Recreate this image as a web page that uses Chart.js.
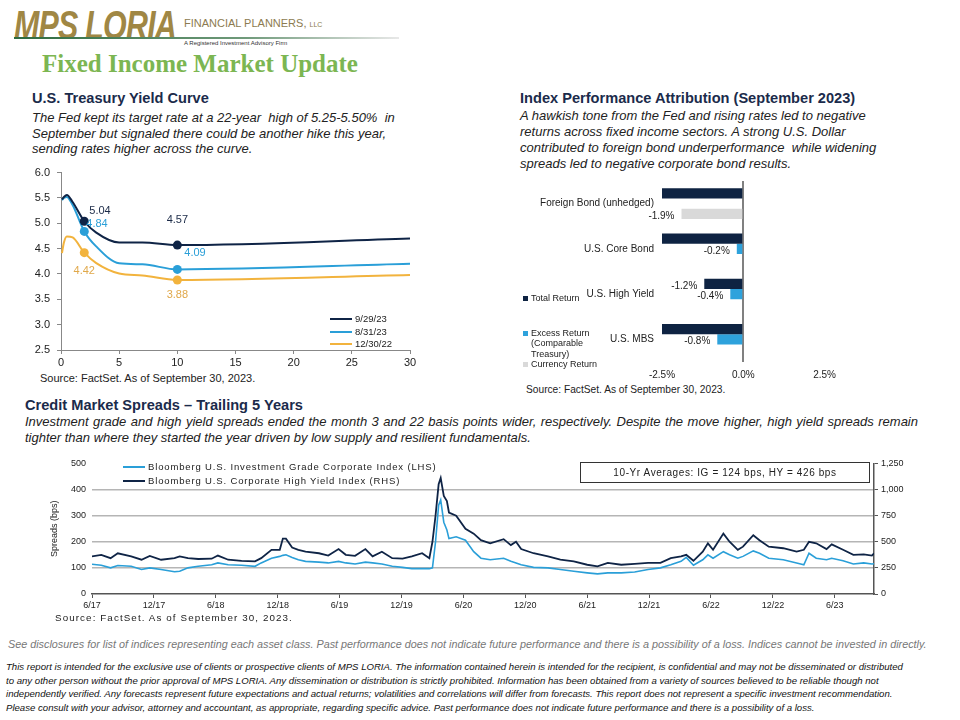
<!DOCTYPE html>
<html>
<head>
<meta charset="utf-8">
<script src="https://cdn.jsdelivr.net/npm/chart.js@4.4.0/dist/chart.umd.min.js"></script>
<style>
  body { margin:0; width:960px; height:720px; background:#fff; position:relative; overflow:hidden; font-family:"Liberation Sans", Arial, sans-serif; color:#222; }
  .abs { position:absolute; }
  .logo { left:14px; top:3px; font:italic bold 40px "Liberation Sans", Arial, sans-serif; color:#a08744; transform:scaleX(0.76); transform-origin:left top; letter-spacing:-1px; }
  .firm { left:184px; top:17px; font:11px "Liberation Sans Narrow", "Liberation Sans", sans-serif; color:#8c7b50; }
  .firm small { font-size:7px; }
  .rule { left:14px; top:37px; width:385px; height:2px; background:linear-gradient(to right,#2d6b3f,#6f9a7a 60%,#e8e8e8); }
  .ria { left:184px; top:40px; font:6px "Liberation Sans", sans-serif; color:#333; }
  .title { left:42px; top:50px; font:bold 25px "Liberation Serif", serif; color:#7cb652; }
  h3 { margin:0; position:absolute; font:bold 14.6px "Liberation Sans", Arial, sans-serif; color:#1b2b4b; }
  .para { font:italic 13px "Liberation Sans", Arial, sans-serif; color:#222; }
  .src { font:11px "Liberation Sans", Arial, sans-serif; color:#222; }
  .leg { font:9.5px "Liberation Sans", Arial, sans-serif; color:#222; }
  .leg i { display:inline-block; vertical-align:middle; margin-right:3px; }
  .note { left:8px; top:638px; font:italic 10.8px "Liberation Sans Narrow", "Liberation Sans", sans-serif; color:#777; }
  .disc { left:6px; top:660px; width:950px; font:italic 9.6px "Liberation Sans Narrow", "Liberation Sans", sans-serif; line-height:13.5px; color:#111; }
</style>
</head>
<body>

<div class="abs logo">MPS LORIA</div>
<div class="abs firm">FINANCIAL PLANNERS, <small>LLC</small></div>
<div class="abs rule"></div>
<div class="abs ria">A Registered Investment Advisory Firm</div>
<div class="abs title">Fixed Income Market Update</div>

<h3 style="left:32px;top:90px;">U.S. Treasury Yield Curve</h3>
<div class="abs para" style="left:32px;top:110px;line-height:15.5px;">The Fed kept its target rate at a 22-year &nbsp;high of 5.25-5.50% &nbsp;in<br>September but signaled there could be another hike this year,<br>sending rates higher across the curve.</div>

<h3 style="left:520px;top:90px;">Index Performance Attribution (September 2023)</h3>
<div class="abs para" style="left:520px;top:108px;line-height:16px;">A hawkish tone from the Fed and rising rates led to negative<br>returns across fixed income sectors. A strong U.S. Dollar<br>contributed to foreign bond underperformance &nbsp;while widening<br>spreads led to negative corporate bond results.</div>

<div class="abs" style="left:20px;top:159px;width:400px;height:211px;"><canvas id="yieldChart"></canvas></div>
<div class="abs leg" style="left:330px;top:313px;line-height:12.5px;">
  <div><i style="width:22px;height:2px;background:#0f2446;"></i>9/29/23</div>
  <div><i style="width:22px;height:2px;background:#2a9fd8;"></i>8/31/23</div>
  <div><i style="width:22px;height:2px;background:#f2b33d;"></i>12/30/22</div>
</div>
<div class="abs src" style="left:40px;top:372px;">Source: FactSet. As of September 30, 2023.</div>

<div class="abs" style="left:515px;top:175px;width:328px;height:209px;"><canvas id="attrChart"></canvas></div>
<div class="abs leg" style="left:523px;top:293px;font-size:9px;line-height:10.5px;">
  <div><i style="width:5px;height:5px;background:#0e2342;"></i>Total Return</div>
  <div style="margin-top:24px;"><i style="width:5px;height:5px;background:#2ea2dc;"></i>Excess Return</div>
  <div style="padding-left:8px;">(Comparable<br>Treasury)</div>
  <div><i style="width:5px;height:5px;background:#d9d9d9;"></i>Currency Return</div>
</div>
<div class="abs src" style="left:526px;top:384px;font-size:10.2px;">Source: FactSet. As of September 30, 2023.</div>

<h3 style="left:25px;top:397px;">Credit Market Spreads – Trailing 5 Years</h3>
<div class="abs para" style="left:25px;top:414px;width:893px;line-height:16px;">
  <div style="text-align:justify;text-align-last:justify;">Investment grade and high yield spreads ended the month 3 and 22 basis points wider, respectively. Despite the move higher, high yield spreads remain</div>
  <div>tighter than where they started the year driven by low supply and resilient fundamentals.</div>
</div>

<div class="abs" style="left:40px;top:452px;width:870px;height:162px;"><canvas id="spreadChart"></canvas></div>
<div class="abs leg" style="left:123px;top:460px;line-height:13.5px;letter-spacing:0.85px;">
  <div><i style="width:22px;height:2px;background:#2a9fd8;"></i>Bloomberg U.S. Investment Grade Corporate Index (LHS)</div>
  <div><i style="width:22px;height:2px;background:#0f2446;"></i>Bloomberg U.S. Corporate High Yield Index (RHS)</div>
</div>
<div class="abs leg" style="left:580px;top:462px;width:288px;height:19px;border:1px solid #333;text-align:center;line-height:19px;font-size:10px;letter-spacing:0.6px;">10-Yr Averages: IG = 124 bps, HY = 426 bps</div>
<div class="abs src" style="left:55px;top:612px;font-size:9.8px;letter-spacing:1.1px;">Source: FactSet. As of September 30, 2023.</div>

<div class="abs note">See disclosures for list of indices representing each asset class. Past performance does not indicate future performance and there is a possibility of a loss. Indices cannot be invested in directly.</div>
<div class="abs disc">This report is intended for the exclusive use of clients or prospective clients of MPS LORIA. The information contained herein is intended for the recipient, is confidential and may not be disseminated or distributed<br>to any other person without the prior approval of MPS LORIA. Any dissemination or distribution is strictly prohibited. Information has been obtained from a variety of sources believed to be reliable though not<br>independently verified. Any forecasts represent future expectations and actual returns; volatilities and correlations will differ from forecasts. This report does not represent a specific investment recommendation.<br>Please consult with your advisor, attorney and accountant, as appropriate, regarding specific advice. Past performance does not indicate future performance and there is a possibility of a loss.</div>

<script>
// DATA - yield curve (maturity in years)
const maturities = [0.083, 0.25, 0.5, 1, 2, 3, 5, 7, 10, 30];
const yields092923 = [5.47, 5.52, 5.56, 5.42, 5.04, 4.82, 4.62, 4.62, 4.57, 4.70];
const yields083123 = [5.46, 5.50, 5.52, 5.36, 4.84, 4.55, 4.21, 4.19, 4.09, 4.20];
const yields123022 = [4.41, 4.62, 4.74, 4.72, 4.42, 4.22, 4.01, 3.97, 3.88, 3.98];
const labeledMaturities = [2, 10];

// DATA - index performance attribution (%)
const attrCategories = ['Foreign Bond (unhedged)', 'U.S. Core Bond', 'U.S. High Yield', 'U.S. MBS'];
const totalReturn = [-3.3, -2.6, -1.2, -2.9];
const excessReturn = [null, -0.2, -0.4, -0.8];
const currencyReturn = [-1.9, null, null, null];

// DATA - credit spreads (months since 6/17, bps)
const spreadMonths = [0, 0.9, 1.8, 2.5, 3.8, 4.8, 5.6, 6.7, 8.0, 8.5, 9.3, 10.3, 11.6, 12.2, 13.2, 14.5, 15.8, 16.4, 17.4, 18.2, 18.5, 18.8,
  19.4, 20.0, 20.7, 22.0, 22.9, 23.9, 24.6, 25.5, 26.5, 27.2, 28.1, 29.1, 30.1, 31.0, 32.0, 32.7,
  33.0, 33.3, 33.6, 33.8, 34.1, 34.4, 34.6, 35.3, 36.2, 37.0, 37.7, 38.6, 39.9, 40.6, 41.1, 41.6, 42.8, 44.2, 45.4, 46.7,
  48.0, 49.0, 50.0, 51.3, 52.6, 53.9, 55.1, 56.1, 57.1, 57.6, 58.3, 59.2, 59.7, 60.2, 61.2, 61.8, 62.6, 63.1, 64.1, 64.7,
  65.6, 67.0, 68.3, 69.0, 69.5, 70.2, 71.2, 71.7, 72.8, 73.8, 74.8, 75.6, 75.8];
const igSpread = [114, 110, 100, 109, 106, 94, 100, 94, 85, 87, 100, 106, 112, 119, 112, 110, 106, 119, 137, 144, 148, 150,
  140, 131, 125, 122, 119, 125, 119, 115, 122, 119, 115, 106, 102, 97, 97, 97,
  100, 200, 340, 360, 275, 245, 212, 219, 206, 162, 137, 131, 137, 125, 119, 112, 102, 100, 94, 87,
  81, 77, 81, 81, 84, 94, 100, 112, 125, 140, 110, 131, 150, 137, 162, 150, 137, 144, 165, 156,
  137, 131, 119, 112, 156, 137, 131, 137, 127, 115, 119, 115, 116];
const hySpread = [360, 375, 343, 390, 360, 328, 365, 328, 343, 360, 343, 335, 338, 368, 328, 318, 313, 343, 423, 423, 530, 530,
  445, 423, 405, 390, 368, 430, 375, 365, 430, 360, 405, 343, 338, 360, 390, 343,
  500, 750, 1050, 1110, 938, 890, 780, 750, 625, 578, 515, 485, 525, 468, 500, 430, 390, 360, 328, 313,
  280, 265, 298, 280, 288, 298, 298, 343, 360, 375, 318, 405, 485, 423, 578, 500, 423, 453, 563, 515,
  453, 438, 405, 423, 500, 485, 430, 475, 423, 375, 380, 368, 390];
const spreadTickMonths = [0, 6, 12, 18, 24, 30, 36, 42, 48, 54, 60, 66, 72];
const spreadTickLabels = ['6/17', '12/17', '6/18', '12/18', '6/19', '12/19', '6/20', '12/20', '6/21', '12/21', '6/22', '12/22', '6/23'];

const NAVY = '#0f2446', BLUE = '#2a9fd8', GOLD = '#f2b33d';
Chart.defaults.font.family = '"Liberation Sans", Arial, sans-serif';
Chart.defaults.color = '#222';

// YIELD CURVE
const yieldLabelSpots = [
  { ds: 0, m: 2, dx: 5, dy: -10, align: 'left', color: '#1b2a47' },
  { ds: 0, m: 10, dx: 0, dy: -25, align: 'center', color: '#1b2a47' },
  { ds: 1, m: 2, dx: 2, dy: -7, align: 'left', color: BLUE },
  { ds: 1, m: 10, dx: 7, dy: -16, align: 'left', color: BLUE },
  { ds: 2, m: 2, dx: 0, dy: 18, align: 'center', color: '#e0a84a' },
  { ds: 2, m: 10, dx: 0, dy: 15, align: 'center', color: '#e0a84a' }
];
const yieldLabels = {
  id: 'yieldLabels',
  afterDatasetsDraw(chart) {
    const ctx = chart.ctx;
    ctx.save();
    ctx.font = '11px "Liberation Sans", Arial, sans-serif';
    ctx.textBaseline = 'middle';
    yieldLabelSpots.forEach(s => {
      const idx = maturities.indexOf(s.m);
      const pt = chart.getDatasetMeta(s.ds).data[idx];
      const v = chart.data.datasets[s.ds].data[idx].y;
      ctx.fillStyle = s.color;
      ctx.textAlign = s.align;
      ctx.fillText(v.toFixed(2), pt.x + s.dx, pt.y + s.dy);
    });
    ctx.restore();
  }
};
const curve = (vals, color) => ({
  data: maturities.map((m, i) => ({ x: m, y: vals[i] })),
  borderColor: color, backgroundColor: color, borderWidth: 2,
  cubicInterpolationMode: 'monotone',
  pointRadius: c => labeledMaturities.includes(maturities[c.dataIndex]) ? 4.5 : 0,
  pointBorderWidth: 0
});
new Chart(document.getElementById('yieldChart'), {
  type: 'line',
  data: { datasets: [curve(yields092923, NAVY), curve(yields083123, BLUE), curve(yields123022, GOLD)] },
  options: {
    responsive: true, maintainAspectRatio: false, animation: false,
    layout: { padding: { top: 0, right: 10 } },
    plugins: { legend: { display: false }, tooltip: { enabled: false } },
    scales: {
      x: { type: 'linear', min: 0, max: 30,
        ticks: { stepSize: 5, font: { size: 11 }, padding: 2, maxRotation: 0 },
        grid: { drawOnChartArea: false, tickLength: 4, color: '#888' },
        border: { color: '#888' },
        afterFit: s => { s.height = 20; } },
      y: { min: 2.5, max: 6,
        ticks: { stepSize: 0.5, font: { size: 11 }, padding: 7, callback: v => v.toFixed(1) },
        grid: { drawOnChartArea: false, tickLength: 4, color: '#888' },
        border: { color: '#888' },
        afterFit: s => { s.width = 41; } }
    }
  },
  plugins: [yieldLabels]
});

// INDEX PERFORMANCE ATTRIBUTION
const barLabels = {
  id: 'barLabels',
  afterDatasetsDraw(chart) {
    const ctx = chart.ctx, xs = chart.scales.x;
    ctx.save();
    ctx.font = '10px "Liberation Sans", Arial, sans-serif';
    ctx.fillStyle = '#222';
    ctx.textAlign = 'right';
    ctx.textBaseline = 'middle';
    chart.data.datasets.forEach((ds, d) => {
      chart.getDatasetMeta(d).data.forEach((bar, i) => {
        const v = ds.data[i];
        if (v === null || v < xs.min) return;
        ctx.fillText(v.toFixed(1) + '%', bar.x - 7, bar.y + 2);
      });
    });
    ctx.restore();
  }
};
new Chart(document.getElementById('attrChart'), {
  type: 'bar',
  data: {
    labels: attrCategories,
    datasets: [
      { label: 'Total Return', data: totalReturn, backgroundColor: '#0e2342' },
      { label: 'Excess Return (Comparable Treasury)', data: excessReturn, backgroundColor: '#2ea2dc' },
      { label: 'Currency Return', data: currencyReturn, backgroundColor: '#d9d9d9' }
    ]
  },
  options: {
    indexAxis: 'y', responsive: true, maintainAspectRatio: false, animation: false,
    categoryPercentage: 0.68, barPercentage: 1.0,
    layout: { padding: { top: 2, right: 0 } },
    plugins: { legend: { display: false }, tooltip: { enabled: false } },
    scales: {
      x: { min: -2.5, max: 2.5,
        ticks: { stepSize: 2.5, font: { size: 10 }, padding: 7, callback: v => v.toFixed(1) + '%' },
        grid: { drawTicks: false, lineWidth: 2, color: c => c.tick && c.tick.value === 0 ? '#808080' : 'transparent' },
        border: { display: false },
        afterFit: s => { s.height = 22; } },
      y: { ticks: { font: { size: 10 }, padding: 0 },
        grid: { display: false }, border: { display: false },
        afterFit: s => { s.width = 147; } }
    }
  },
  plugins: [barLabels]
});

// CREDIT SPREADS
const toPts = vals => spreadMonths.map((m, i) => ({ x: m, y: vals[i] }));
new Chart(document.getElementById('spreadChart'), {
  type: 'line',
  data: {
    datasets: [
      { label: 'Bloomberg U.S. Investment Grade Corporate Index (LHS)', data: toPts(igSpread), yAxisID: 'y',
        borderColor: BLUE, borderWidth: 1.6, pointRadius: 0, tension: 0 },
      { label: 'Bloomberg U.S. Corporate High Yield Index (RHS)', data: toPts(hySpread), yAxisID: 'y2',
        borderColor: NAVY, borderWidth: 1.8, pointRadius: 0, tension: 0 }
    ]
  },
  options: {
    responsive: true, maintainAspectRatio: false, animation: false,
    layout: { padding: { top: 7 } },
    plugins: { legend: { display: false }, tooltip: { enabled: false } },
    scales: {
      x: { type: 'linear', min: 0, max: 75.8,
        afterBuildTicks: s => { s.ticks = spreadTickMonths.map(v => ({ value: v })); },
        ticks: { font: { size: 9 }, padding: 2, maxRotation: 0, autoSkip: false,
          callback: v => spreadTickLabels[spreadTickMonths.indexOf(v)] },
        grid: { drawOnChartArea: false, tickLength: 4, color: '#555' },
        border: { color: '#555', width: 1.5 },
        afterFit: s => { s.height = 20; } },
      y: { position: 'left', min: 0, max: 500,
        ticks: { stepSize: 100, font: { size: 9 }, padding: 6 },
        title: { display: true, text: 'Spreads (bps)', font: { size: 9 }, padding: { top: 9, bottom: 0 } },
        grid: { drawTicks: false, lineWidth: 1.5, color: c => (c.tick.value === 0 || c.tick.value === 500) ? 'transparent' : '#b5b5b5' },
        border: { display: false },
        afterFit: s => { s.width = 52; } },
      y2: { position: 'right', min: 0, max: 1250,
        ticks: { stepSize: 250, font: { size: 9 }, padding: 3, callback: v => v.toLocaleString('en-US') },
        grid: { drawOnChartArea: false, tickLength: 4, color: '#555' },
        border: { color: '#555', width: 1.5 },
        afterFit: s => { s.width = 36; } }
    }
  }
});
</script>
</body>
</html>
